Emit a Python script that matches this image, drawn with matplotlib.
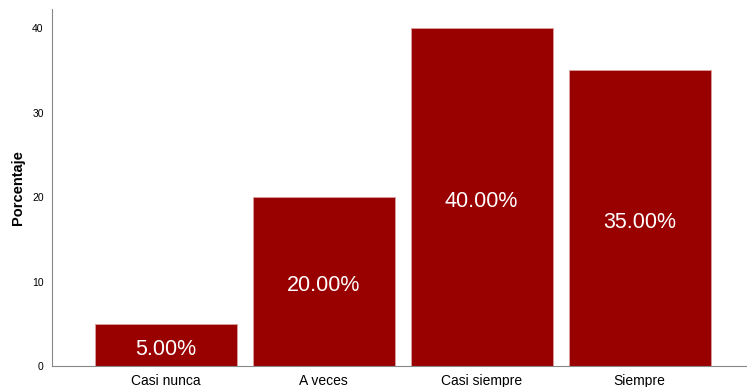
import matplotlib.pyplot as plt
import numpy as np

plt.rcParams['font.family'] = ['Liberation Sans', 'DejaVu Sans']

# Frequency categories and their percentages
categorias = ['Casi nunca', 'A veces', 'Casi siempre', 'Siempre']
porcentajes = [5.0, 20.0, 40.0, 35.0]
etiquetas = ['5.00%', '20.00%', '40.00%', '35.00%']

fig = plt.figure(figsize=(7.47, 3.87), dpi=100)
ax = fig.add_axes([52 / 747, 21 / 387, 695 / 747, 357 / 387])

x = np.arange(len(categorias))
barras = ax.bar(x, porcentajes, width=0.9, color='#990000',
                edgecolor='#d9a0a0', linewidth=0.6)

# percentage labels centred inside each bar
for b, txt in zip(barras, etiquetas):
    ax.annotate(txt, (b.get_x() + b.get_width() / 2, b.get_height() / 2),
                xytext=(0, -3), textcoords='offset points',
                ha='center', va='center', color='white', fontsize=15.5)

ax.set_xlim(-0.72, 3.68)
ax.set_ylim(0, 42.25)
ax.set_yticks([0, 10, 20, 30, 40])
ax.set_xticks(x)
ax.set_xticklabels(categorias, fontsize=10)
ax.tick_params(axis='y', length=0, labelsize=7.5, pad=6)
ax.tick_params(axis='x', length=0, pad=6)
ax.set_ylabel('Porcentaje', fontsize=10.5, fontweight='bold', labelpad=5)

for s in ['top', 'right']:
    ax.spines[s].set_visible(False)
for s in ['left', 'bottom']:
    ax.spines[s].set_color('#888888')
    ax.spines[s].set_linewidth(0.8)

plt.savefig('out.png', dpi=100)
